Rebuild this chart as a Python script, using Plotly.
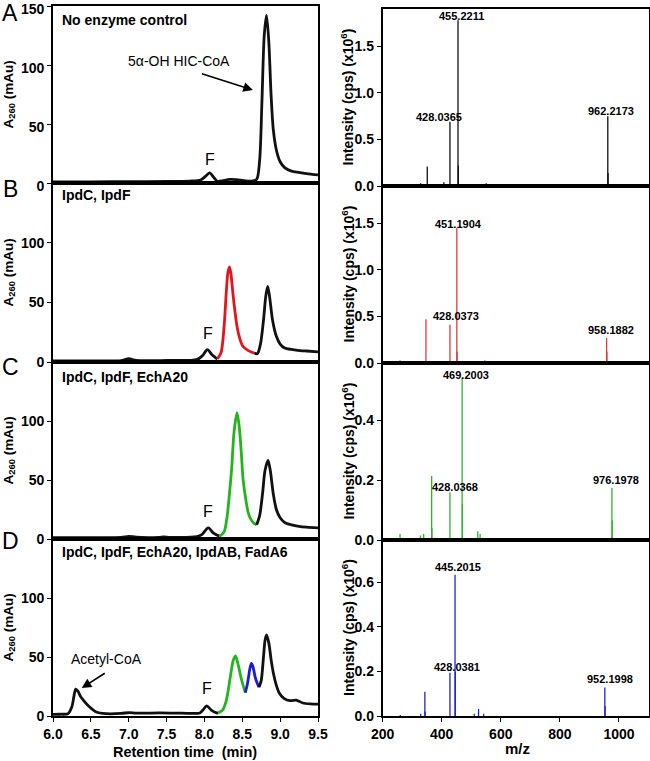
import plotly.graph_objects as go

W, H = 650, 761

# ---------------- Chromatogram data (retention time min, A260 mAu) ----------------
# Panel A: no enzyme control
chromA_t = [6.0, 6.5, 7.0, 7.5, 7.8, 7.95, 8.02, 8.07, 8.12, 8.17, 8.25, 8.33, 8.42, 8.52, 8.62, 8.69,
            8.73, 8.76, 8.79, 8.82, 8.85, 8.88, 8.91, 8.95, 9.0, 9.06, 9.15, 9.25, 9.35, 9.5]
chromA_y = [1.0, 1.0, 1.2, 1.3, 1.6, 2.5, 6, 8.5, 5, 1.5, 2.0, 3.0, 2.8, 2.0, 1.5, 3,
            20, 70, 125, 142, 120, 75, 45, 28, 18, 13, 10, 9, 8, 6.8]

# Panel B: IpdC, IpdF
chromB1_t = [6.0, 6.5, 6.9, 7.0, 7.1, 7.5, 7.9, 7.97, 8.04, 8.1, 8.17]
chromB1_y = [1.0, 1.0, 1.2, 2.8, 1.3, 1.3, 2, 5, 10.3, 6, 2.5]
chromB2_t = [8.17, 8.22, 8.26, 8.29, 8.31, 8.33, 8.35, 8.38, 8.43, 8.47, 8.51, 8.57, 8.62, 8.66]
chromB2_y = [2.5, 8, 30, 60, 75, 79.6, 74, 55, 30, 19, 13, 10, 8.4, 7.5]
chromB3_t = [8.66, 8.70, 8.74, 8.78, 8.81, 8.835, 8.86, 8.9, 8.95, 9.0, 9.06, 9.15, 9.23, 9.35, 9.5]
chromB3_y = [7.5, 7, 15, 35, 55, 63.4, 55, 35, 21.5, 15, 11.7, 10.5, 9.8, 9.2, 8.5]

# Panel C: IpdC, IpdF, EchA20
chromC1_t = [6.0, 6.5, 6.9, 7.0, 7.1, 7.4, 7.46, 7.55, 7.9, 7.97, 8.05, 8.12, 8.2]
chromC1_y = [1.2, 1.2, 1.4, 2.3, 1.5, 1.4, 1.7, 1.4, 2, 4, 9.4, 5, 2.3]
chromC2_t = [8.2, 8.26, 8.30, 8.33, 8.36, 8.39, 8.43, 8.46, 8.49, 8.51, 8.55, 8.58, 8.62, 8.66, 8.69]
chromC2_y = [2.3, 6, 19.4, 38, 60, 90, 107, 95, 70, 51, 32, 22, 16, 13, 12]
chromC3_t = [8.69, 8.73, 8.77, 8.80, 8.84, 8.87, 8.91, 8.95, 9.0, 9.06, 9.15, 9.23, 9.35, 9.5]
chromC3_y = [12, 20, 40, 58, 66.6, 58, 38, 25, 18, 14, 12, 11, 10, 9.4]

# Panel D: IpdC, IpdF, EchA20, IpdAB, FadA6
chromD1_t = [6.0, 6.1, 6.2, 6.25, 6.28, 6.30, 6.33, 6.36, 6.40, 6.48, 6.57, 6.70, 6.9, 7.01, 7.1,
             7.41, 7.7, 7.94, 7.98, 8.03, 8.09, 8.16, 8.18]
chromD1_y = [1.4, 1.5, 2, 8, 18, 22.7, 21, 17, 13.5, 7.8, 3.4, 2, 2.2, 2.9, 2.4,
             2.6, 2.4, 2.6, 5, 8.6, 5, 2.6, 2.6]
chromD2_t = [8.18, 8.24, 8.29, 8.35, 8.38, 8.41, 8.44, 8.49, 8.54]
chromD2_y = [2.6, 5, 13.5, 36.5, 47, 50.9, 45, 30.7, 19.8]
chromD3_t = [8.54, 8.57, 8.60, 8.62, 8.64, 8.67, 8.69, 8.72]
chromD3_y = [19.8, 28, 40, 44.5, 42, 33, 29, 24.4]
chromD4_t = [8.72, 8.75, 8.78, 8.80, 8.82, 8.85, 8.88, 8.91, 8.95, 8.99, 9.05, 9.13, 9.21, 9.25, 9.30, 9.4, 9.5]
chromD4_y = [24.4, 30, 50, 64, 68.7, 62, 48, 36.5, 26, 19.3, 15, 13, 13.5, 12.5, 11, 10.2, 10]

# ---------------- Mass spectra (m/z, intensity x10^6 cps) ----------------
specA_mz = [258.8, 328.7, 340.0, 351.2, 407.6, 428.0, 455.2, 456.2, 506.7, 533.8, 550.7, 962.2, 963.2]
specA_int = [0.005, 0.03, 0.02, 0.21, 0.04, 0.69, 1.78, 0.22, 0.02, 0.02, 0.03, 0.75, 0.14]

specB_mz = [259.0, 328.0, 346.7, 428.0, 451.2, 452.2, 504.6, 529.0, 546.0, 766.0, 958.2, 959.2]
specB_int = [0.03, 0.02, 0.47, 0.41, 1.45, 0.12, 0.01, 0.02, 0.03, 0.01, 0.27, 0.12]

specC_mz = [259.0, 328.0, 339.0, 366.0, 367.0, 428.0, 469.2, 470.2, 507.0, 522.0, 530.0, 766.0, 976.2, 977.2]
specC_int = [0.02, 0.015, 0.02, 0.213, 0.04, 0.159, 0.542, 0.12, 0.005, 0.029, 0.02, 0.005, 0.174, 0.065]

specD_mz = [260.0, 329.0, 343.0, 344.0, 428.0, 445.2, 446.2, 510.0, 524.8, 542.0, 952.2, 953.2]
specD_int = [0.005, 0.01, 0.109, 0.02, 0.194, 0.634, 0.2, 0.01, 0.031, 0.01, 0.128, 0.045]

# peak labels: (text, label centre m/z, label centre intensity)
labelsA = [("455.2211", 467.4, 1.83), ("428.0365", 390.7, 0.74), ("962.2173", 974.5, 0.81)]
labelsB = [("451.1904", 456.0, 1.49), ("428.0373", 448.0, 0.50), ("958.1882", 972.0, 0.35)]
labelsC = [("469.2003", 481.0, 0.55), ("428.0368", 444.8, 0.178), ("976.1978", 991.3, 0.20)]
labelsD = [("445.2015", 453.8, 0.667), ("428.0381", 450.5, 0.22), ("952.1998", 968.8, 0.168)]

panel_titles = ["No enzyme control", "IpdC, IpdF", "IpdC, IpdF, EchA20", "IpdC, IpdF, EchA20, IpdAB, FadA6"]
panel_letters = ["A", "B", "C", "D"]

left_yticks = [[0, 50, 100, 150], [0, 50, 100], [0, 50, 100], [0, 50, 100]]
right_yticks = [[0, 0.5, 1.0, 1.5], [0, 0.5, 1.0, 1.5], [0, 0.2, 0.4], [0, 0.2, 0.4, 0.6]]
right_yrange = [1.9, 1.9, 0.59, 0.79]
left_xticks = [6.0, 6.5, 7.0, 7.5, 8.0, 8.5, 9.0, 9.5]
right_xticks = [200, 400, 600, 800, 1000]

BLACK = "#111111"
RED = "#e3151c"
GREEN = "#23b51c"
BLUE = "#1c1cd2"
SPEC_RED = "#e03a3e"
SPEC_GREEN = "#2fb52a"
SPEC_BLUE = "#2424d4"
FONT = "Liberation Sans, Arial, sans-serif"

# ---------------- geometry (pixels) ----------------
left_x = (53, 318)
right_x = (382.6, 648.5)
left_y = [(6, 183), (183, 362), (362, 539), (539, 716)]
right_y = [(9, 186), (186, 363), (363, 540), (540, 716)]


def px(x):
    return x / W


def py(y):
    return 1 - y / H


fig = go.Figure()
layout = dict(
    width=W, height=H, margin=dict(l=0, r=0, t=0, b=0, autoexpand=False),
    paper_bgcolor="white", plot_bgcolor="white", showlegend=False,
    font=dict(family=FONT, color="black"),
)

axis_common = dict(showline=True, mirror=True, linecolor="black", linewidth=1.6,
                   showgrid=False, zeroline=False, ticks="outside", ticklen=4,
                   tickwidth=1.4, tickcolor="black", ticklabeloverflow="allow",
                   automargin=False,
                   tickfont=dict(family=FONT, size=14, color="black", weight="bold"))

for i in range(4):
    # left chromatogram axes: index i+1 ; right spectra axes: index i+5
    li, ri = i + 1, i + 5
    lx = dict(axis_common, domain=[px(left_x[0]), px(left_x[1])], range=[6.0, 9.5],
              anchor=f"y{li}")
    rx = dict(axis_common, domain=[px(right_x[0]), px(right_x[1])], range=[200, 1100],
              anchor=f"y{ri}")
    if i == 3:
        lx.update(tickvals=left_xticks, tickformat=".1f")
        rx.update(tickvals=right_xticks)
    else:
        lx.update(showticklabels=False, ticks="")
        rx.update(showticklabels=False, ticks="")
    ly = dict(axis_common, domain=[py(left_y[i][1]), py(left_y[i][0])], range=[0, 150],
              anchor=f"x{li}", tickvals=left_yticks[i])
    if i == 0:
        ly["ticklabelshift"] = 3
    ry = dict(axis_common, domain=[py(right_y[i][1]), py(right_y[i][0])],
              range=[0, right_yrange[i]], anchor=f"x{ri}", tickvals=right_yticks[i],
              tickformat=".1f")
    layout[f"xaxis{li}"] = lx
    layout[f"yaxis{li}"] = ly
    layout[f"xaxis{ri}"] = rx
    layout[f"yaxis{ri}"] = ry

# ---------------- chromatogram traces ----------------
def chrom(t, y, color, ax):
    fig.add_trace(go.Scatter(x=t, y=y, mode="lines", xaxis=f"x{ax}", yaxis=f"y{ax}",
                             line=dict(color=color, width=2.8, shape="spline", smoothing=0.8),
                             hoverinfo="skip"))

chrom(chromA_t, chromA_y, BLACK, 1)
chrom(chromB1_t, chromB1_y, BLACK, 2)
chrom(chromB2_t, chromB2_y, RED, 2)
chrom(chromB3_t, chromB3_y, BLACK, 2)
chrom(chromC1_t, chromC1_y, BLACK, 3)
chrom(chromC2_t, chromC2_y, GREEN, 3)
chrom(chromC3_t, chromC3_y, BLACK, 3)
chrom(chromD1_t, chromD1_y, BLACK, 4)
chrom(chromD2_t, chromD2_y, GREEN, 4)
chrom(chromD3_t, chromD3_y, BLUE, 4)
chrom(chromD4_t, chromD4_y, BLACK, 4)

# ---------------- stick spectra ----------------
def sticks(mz, inten, color, ax):
    xs, ys = [], []
    for m, v in zip(mz, inten):
        xs += [m, m, None]
        ys += [0, v, None]
    fig.add_trace(go.Scatter(x=xs, y=ys, mode="lines", xaxis=f"x{ax}", yaxis=f"y{ax}",
                             line=dict(color=color, width=1.3), hoverinfo="skip"))

sticks(specA_mz, specA_int, BLACK, 5)
sticks(specB_mz, specB_int, SPEC_RED, 6)
sticks(specC_mz, specC_int, SPEC_GREEN, 7)
sticks(specD_mz, specD_int, SPEC_BLUE, 8)

annotations = []
for ax, labels in zip([5, 6, 7, 8], [labelsA, labelsB, labelsC, labelsD]):
    for text, xm, yv in labels:
        annotations.append(dict(x=xm, y=yv, xref=f"x{ax}", yref=f"y{ax}", text=text,
                                showarrow=False, xanchor="center", yanchor="middle",
                                font=dict(family=FONT, size=11, color="black", weight="bold")))

# panel titles, letters, y titles
title_y = [20, 195, 377, 552]
letter_y = [13, 189, 367, 541]
for i in range(4):
    annotations.append(dict(x=px(60), y=py(title_y[i]), xref="paper", yref="paper",
                            text=panel_titles[i], showarrow=False, xanchor="left", yanchor="middle",
                            font=dict(family=FONT, size=14, color="black", weight="bold")))
    annotations.append(dict(x=px(10), y=py(letter_y[i]), xref="paper", yref="paper",
                            text=panel_letters[i], showarrow=False, xanchor="center", yanchor="middle",
                            font=dict(family=FONT, size=23, color="black")))
    cy_l = (left_y[i][0] + left_y[i][1]) / 2
    annotations.append(dict(x=px(9), y=py(cy_l), xref="paper", yref="paper",
                            text="A<sub>260</sub> (mAu)", textangle=-90, showarrow=False,
                            xanchor="center", yanchor="middle",
                            font=dict(family=FONT, size=13.5, color="black", weight="bold")))
    cy_r = (right_y[i][0] + right_y[i][1]) / 2
    annotations.append(dict(x=px(348), y=py(cy_r), xref="paper", yref="paper",
                            text="Intensity (cps) (x10<sup>6</sup>)", textangle=-90, showarrow=False,
                            xanchor="center", yanchor="middle",
                            font=dict(family=FONT, size=14, color="black", weight="bold")))

# x-axis titles
annotations.append(dict(x=px(185), y=py(752), xref="paper", yref="paper",
                        text="Retention time\u00a0 (min)", showarrow=False,
                        xanchor="center", yanchor="middle",
                        font=dict(family=FONT, size=14.5, color="black", weight="bold")))
annotations.append(dict(x=px(517), y=py(748), xref="paper", yref="paper",
                        text="m/z", showarrow=False, xanchor="center", yanchor="middle",
                        font=dict(family=FONT, size=15, color="black", weight="bold")))

# "F" labels
F_pos = [(8.07, 19.5, 1), (8.05, 23.5, 2), (8.05, 23, 3), (8.04, 23.7, 4)]
for xv, yv, ax in F_pos:
    annotations.append(dict(x=xv, y=yv, xref=f"x{ax}", yref=f"y{ax}", text="F", showarrow=False,
                            xanchor="center", yanchor="middle",
                            font=dict(family=FONT, size=16, color="black")))

# compound labels with arrows
annotations.append(dict(x=7.67, y=103, xref="x1", yref="y1", text="5\u03b1-OH HIC-CoA",
                        showarrow=False, xanchor="center", yanchor="middle",
                        font=dict(family=FONT, size=14, color="black")))
annotations.append(dict(x=8.64, y=78.8, ax=7.94, ay=93.2, xref="x1", yref="y1",
                        axref="x1", ayref="y1", text=" ", showarrow=True,
                        arrowhead=2, arrowsize=1.2, arrowwidth=1.6, arrowcolor="black",
                        font=dict(size=2)))
annotations.append(dict(x=6.70, y=48, xref="x4", yref="y4", text="Acetyl-CoA",
                        showarrow=False, xanchor="center", yanchor="middle",
                        font=dict(family=FONT, size=14, color="black")))
annotations.append(dict(x=6.38, y=23.7, ax=6.71, ay=37.3, xref="x4", yref="y4",
                        axref="x4", ayref="y4", text=" ", showarrow=True,
                        arrowhead=2, arrowsize=1.2, arrowwidth=1.6, arrowcolor="black",
                        font=dict(size=2)))

layout["annotations"] = annotations
fig.update_layout(**layout)
fig.write_html("out.html", config={"displayModeBar": False},
               post_script="document.body.style.margin='0px';document.body.style.overflow='hidden';")
